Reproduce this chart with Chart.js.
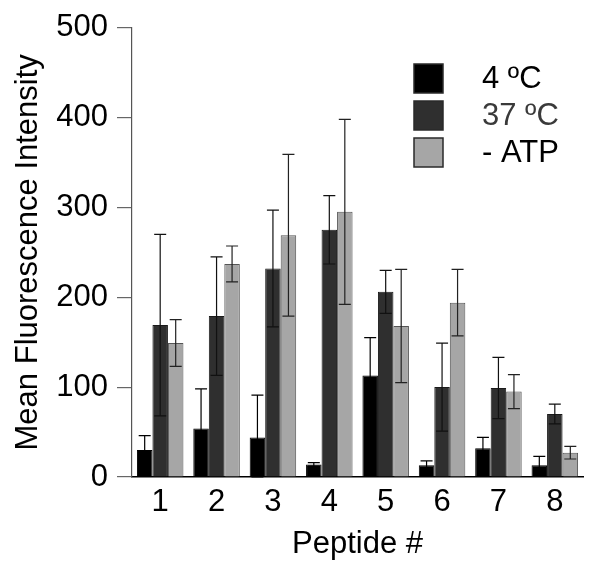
<!DOCTYPE html>
<html>
<head>
<meta charset="utf-8">
<script src="https://cdn.jsdelivr.net/npm/chart.js@4/dist/chart.umd.min.js"></script>
<style>
  html, body { margin: 0; padding: 0; background: #fff; }
  #wrap { width: 601px; height: 575px; }
</style>
</head>
<body>
<div id="wrap"><canvas id="grafico" width="601" height="575"></canvas></div>
<script>
/* ==========================
   Dados
   ========================== */
const peptides = ["1", "2", "3", "4", "5", "6", "7", "8"];
const yTicks = [0, 100, 200, 300, 400, 500];

const labels = ["4 ºC", "37 ºC", "- ATP"];
const frio = [30, 54, 44, 14, 113, 13, 32, 13];
const frioErr = [16, 44, 47, 2, 42, 5, 12, 10];
const quente = [169, 179, 232, 275, 206, 100, 99, 70];
const quenteErr = [101, 66, 65, 38, 24, 49, 34, 11];
const semAtp = [149, 237, 269, 295, 168, 194, 95, 27];
const semAtpErr = [26, 20, 90, 103, 63, 37, 19, 7];

const FONTE = "'Liberation Sans', Arial, sans-serif";
const TAM = 31;

/* --------------------------
   Plugin: barras de erro
   -------------------------- */
const errorBars = {
  id: "errorBars",
  afterDatasetsDraw(chart) {
    const ctx = chart.ctx;
    const y = chart.scales.y;
    chart.data.datasets.forEach((ds, i) => {
      const meta = chart.getDatasetMeta(i);
      meta.data.forEach((bar, j) => {
        const v = ds.data[j];
        const e = ds.errors[j];
        const top = y.getPixelForValue(v + e);
        const bot = y.getPixelForValue(Math.max(0, v - e));
        const half = 6;
        ctx.save();
        ctx.strokeStyle = ds.whisker;
        ctx.lineWidth = 1.2;
        ctx.beginPath();
        ctx.moveTo(bar.x, top);
        ctx.lineTo(bar.x, bot);
        ctx.moveTo(bar.x - half, top);
        ctx.lineTo(bar.x + half, top);
        ctx.moveTo(bar.x - half, bot);
        ctx.lineTo(bar.x + half, bot);
        ctx.stroke();
        ctx.restore();
      });
    });
  },
};

/* --------------------------
   Plugin: legenda manual
   -------------------------- */
const legendaManual = {
  id: "legendaManual",
  afterDraw(chart) {
    const ctx = chart.ctx;
    const x0 = 414, y0 = 64, box = 29, step = 37;
    const textColors = ["#000", "#3a3a3a", "#000"];
    chart.data.datasets.forEach((ds, i) => {
      const yy = y0 + i * step;
      ctx.save();
      ctx.fillStyle = ds.backgroundColor;
      ctx.fillRect(x0, yy, box, box);
      ctx.strokeStyle = "#2a2a2a";
      ctx.lineWidth = 1.5;
      ctx.strokeRect(x0, yy, box, box);
      ctx.fillStyle = textColors[i];
      ctx.font = TAM + "px " + FONTE;
      ctx.textBaseline = "middle";
      ctx.fillText(ds.label, 482, yy + box / 2 + 1);
      ctx.restore();
    });
  },
};

/* ==========================
   Gráfico
   ========================== */
const ctx = document.getElementById("grafico").getContext("2d");
new Chart(ctx, {
  type: "bar",
  data: {
    labels: peptides,
    datasets: [
      { label: labels[0], data: frio, errors: frioErr, backgroundColor: "#000000", borderColor: "#000000", whisker: "#000" },
      { label: labels[1], data: quente, errors: quenteErr, backgroundColor: "#2f2f2f", borderColor: "#1a1a1a", whisker: "#111" },
      { label: labels[2], data: semAtp, errors: semAtpErr, backgroundColor: "#a6a6a6", borderColor: "#555555", whisker: "#222" },
    ],
  },
  options: {
    responsive: false,
    animation: false,
    layout: { padding: { top: 27, right: 18, left: 10, bottom: 12 } },
    datasets: {
      bar: { categoryPercentage: 0.825, barPercentage: 1.0, borderWidth: 1, borderSkipped: "bottom" },
    },
    plugins: {
      legend: { display: false },
      tooltip: { enabled: false },
    },
    scales: {
      x: {
        grid: { display: false, drawTicks: false },
        border: { display: true, color: "#000", width: 1.5 },
        ticks: { color: "#000", font: { family: FONTE, size: TAM }, padding: 7 },
        title: { display: true, text: "Peptide #", color: "#000", font: { family: FONTE, size: TAM }, padding: { top: 4, bottom: 0 } },
        afterFit(s) { s.height = 86; },
      },
      y: {
        min: 0,
        max: 500,
        afterBuildTicks(s) { s.ticks = yTicks.map((v) => ({ value: v })); },
        grid: { drawOnChartArea: false, drawTicks: true, tickLength: 15, color: "#666", lineWidth: 1.2 },
        border: { display: true, color: "#555", width: 1.2 },
        ticks: { color: "#000", font: { family: FONTE, size: TAM }, padding: 9 },
        title: { display: true, text: "Mean Fluorescence Intensity", color: "#000", font: { family: FONTE, size: TAM }, padding: { top: 0, bottom: 4 } },
        afterFit(s) { s.width = 122; },
      },
    },
  },
  plugins: [errorBars, legendaManual],
});
</script>
</body>
</html>
